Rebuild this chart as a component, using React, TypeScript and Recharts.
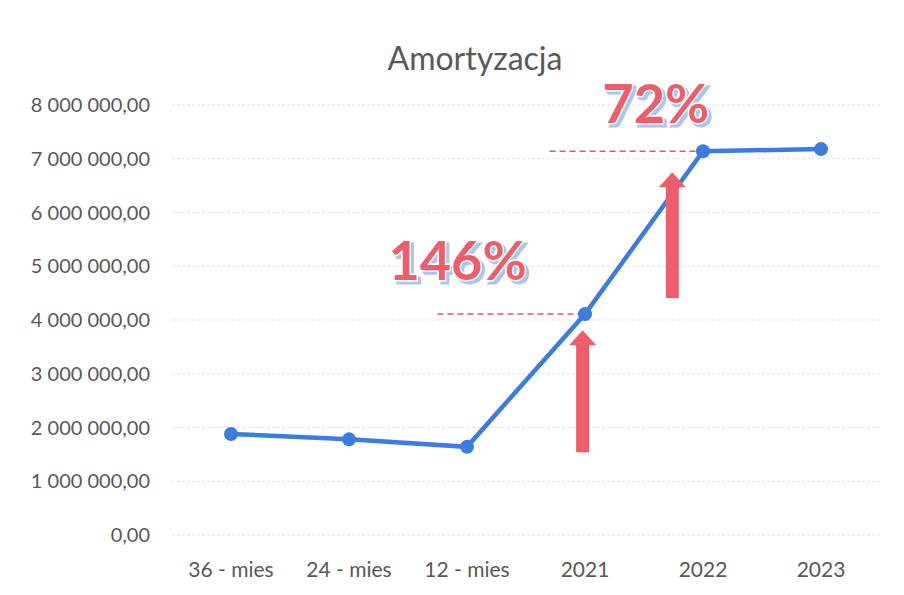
import { LineChart, Line, XAxis, YAxis, CartesianGrid, ReferenceLine, ReferenceDot } from 'recharts'

const categories = ['36 - mies', '24 - mies', '12 - mies', '2021', '2022', '2023']
const values = [1880000, 1780000, 1640000, 4110000, 7140000, 7180000]
const yTicks = [0, 1000000, 2000000, 3000000, 4000000, 5000000, 6000000, 7000000, 8000000]

// annotations, in data units (x = category index)
const pctLabels = ['146%', '72%']
const pctAt = [
  { x: 1.92, y: 4740000 },
  { x: 3.6, y: 7660000 },
]
const dashFrom = [1.75, 2.7]
const dashTo = [3, 4]
const arrows = [
  { x: 2.98, from: 1540000, to: 3810000 },
  { x: 3.74, from: 4410000, to: 6750000 },
]

const data = categories.map((name, i) => ({ idx: i, name, value: values[i] }))

const fmt = (v: number) => {
  const s = Math.round(v).toString().replace(/\B(?=(\d{3})+(?!\d))/g, ' ')
  return s + ',00'
}

const FONT = 'Lato, "Open Sans", sans-serif'
const TEXT = '#595959'
const RED = '#ef5c6a'

const Arrow = (p: any) => {
  const { x1, y1, x2, y2 } = p
  const x = (x1 + x2) / 2
  const yb = Math.max(y1, y2)
  const yt = Math.min(y1, y2)
  const sw = 13, hw = 27, hh = 15
  const d = `M${x - sw / 2},${yb} L${x - sw / 2},${yt + hh} L${x - hw / 2},${yt + hh} L${x},${yt} L${x + hw / 2},${yt + hh} L${x + sw / 2},${yt + hh} L${x + sw / 2},${yb} Z`
  return <path d={d} fill={RED} />
}

// big percentage labels: red fill, white outline, light blue offset shadow
const pctShape = (text: string) => (p: any) => (
  <g>
    <defs>
      <filter id="blueShadow" x="-10%" y="-10%" width="130%" height="130%">
        <feOffset in="SourceAlpha" dx="3" dy="3" result="off" />
        <feFlood floodColor="#a9c6ec" />
        <feComposite in2="off" operator="in" result="sh" />
        <feMerge>
          <feMergeNode in="sh" />
          <feMergeNode in="SourceGraphic" />
        </feMerge>
      </filter>
    </defs>
    <text
      x={p.cx}
      y={p.cy}
      textAnchor="middle"
      fill={RED}
      stroke="#fff"
      strokeWidth={3}
      paintOrder="stroke"
      filter="url(#blueShadow)"
      style={{ fontFamily: FONT, fontSize: 54, fontWeight: 700 }}
    >
      {text}
    </text>
  </g>
)

export default function App() {
  return (
    <div style={{ position: 'absolute', left: 0, top: 0, width: 904, height: 595, background: '#fff' }}>
      <div
        style={{
          position: 'absolute', left: 0, width: 950, top: 38, textAlign: 'center',
          fontFamily: FONT, fontSize: 32, color: TEXT,
        }}
      >
        Amortyzacja
      </div>
      <LineChart width={904} height={595} data={data} margin={{ top: 105, right: 24, bottom: 20, left: 0 }}>
        <CartesianGrid vertical={false} stroke="#e4e4e4" strokeDasharray="3 2" />
        <XAxis
          dataKey="idx"
          type="number"
          domain={[-0.5, 5.5]}
          ticks={[0, 1, 2, 3, 4, 5]}
          interval={0}
          tickFormatter={(i: number) => categories[i]}
          height={40}
          axisLine={false}
          tickLine={false}
          tickMargin={21}
          tick={{ fill: TEXT, fontSize: 21, fontFamily: FONT }}
        />
        <YAxis
          domain={[0, 8000000]}
          ticks={yTicks}
          width={172}
          axisLine={false}
          tickLine={false}
          tickMargin={16}
          tickFormatter={fmt}
          tick={{ fill: TEXT, fontSize: 20, fontFamily: FONT }}
        />
        {dashFrom.map((f, i) => (
          <ReferenceLine
            key={'d' + i}
            segment={[{ x: f, y: values[dashTo[i]] }, { x: dashTo[i], y: values[dashTo[i]] }]}
            stroke="#e8546a"
            strokeWidth={1.5}
            strokeDasharray="6 4"
          />
        ))}
        <Line
          dataKey="value"
          stroke="#3a7ddf"
          strokeWidth={4.5}
          dot={{ r: 7, fill: '#3a7ddf', stroke: 'none' }}
          isAnimationActive={false}
        />
        {arrows.map((a, i) => (
          <ReferenceLine
            key={'a' + i}
            segment={[{ x: a.x, y: a.from }, { x: a.x, y: a.to }]}
            shape={Arrow}
          />
        ))}
        {pctLabels.map((t, i) => (
          <ReferenceDot key={'p' + i} x={pctAt[i].x} y={pctAt[i].y} r={0} shape={pctShape(t)} />
        ))}
      </LineChart>
    </div>
  )
}
